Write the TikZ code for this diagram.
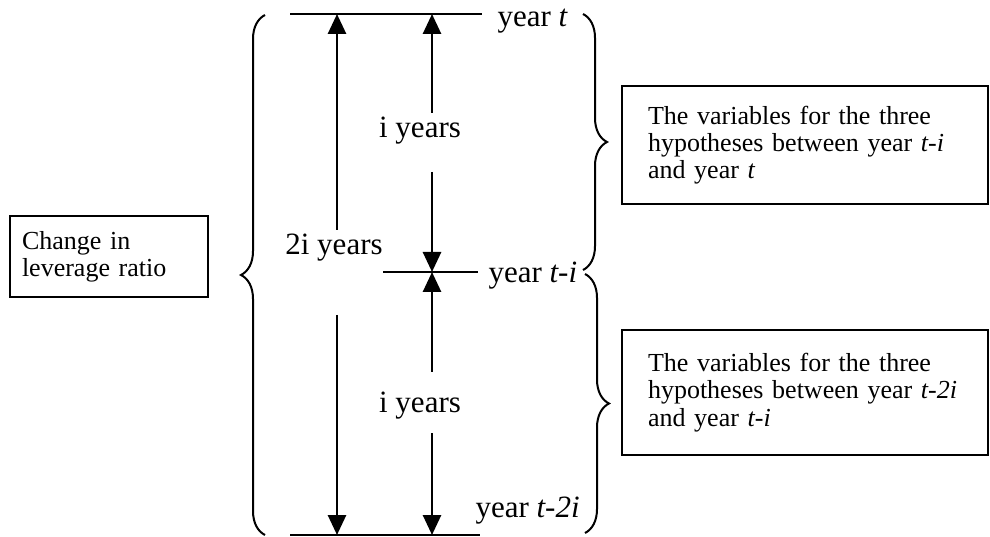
\documentclass[tikz,border=0pt]{standalone}
\usepackage{fontspec}
\setmainfont{Liberation Serif}
\usepackage{tikz}
\usetikzlibrary{arrows.meta}
\usetikzlibrary{decorations.pathreplacing}

\begin{document}
\begin{tikzpicture}[x=0.4pt, y=-0.4pt,
    arr/.style={line width=1.1pt, -{Triangle[width=7.2pt,length=8pt]}},
    brc/.style={line width=0.8pt, decorate, decoration={brace, amplitude=9.6pt}},
    lbl/.style={inner sep=0pt, font=\fontsize{12.4}{14}\selectfont},
    box/.style={draw, line width=1.1pt, align=left, inner xsep=4.8pt,
        font=\fontsize{10.4}{10.9}\selectfont}]
    \useasboundingbox (0,0) rectangle (990,537);

    % Lignes des annees
    \coordinate (tL) at (290,14);  \coordinate (tR) at (482,14);
    \coordinate (mL) at (383,272); \coordinate (mR) at (478,272);
    \coordinate (bL) at (290,535); \coordinate (bR) at (480,535);
    \draw[line width=1.1pt] (tL) -- (tR);
    \draw[line width=1.1pt] (mL) -- (mR);
    \draw[line width=1.1pt] (bL) -- (bR);
    \node[lbl, anchor=base west] (yt) at (497,27) {year \textit{t}};
    \node[lbl, anchor=base west] (yti) at (488,283) {year \textit{t-i}};
    \node[lbl, anchor=base west] (yt2i) at (475,517) {year \textit{t-2i}};

    % Fleche de 2i annees
    \node[lbl, anchor=base] (twoi) at (334,255) {2i years};
    \coordinate (aT) at (337,14);  \coordinate (aB) at (337,535);
    \coordinate (a1) at (337,230); \coordinate (a2) at (337,315);
    \draw[arr] (a1) -- (aT);
    \draw[arr] (a2) -- (aB);

    % Fleches de i annees
    \node[lbl, anchor=base] (iup) at (420,138) {i years};
    \node[lbl, anchor=base] (ilow) at (420,412) {i years};
    \coordinate (cT) at (432,14);  \coordinate (cM) at (432,272);
    \coordinate (cB) at (432,535);
    \coordinate (c1) at (432,113); \coordinate (c2) at (432,172);
    \coordinate (c3) at (432,372); \coordinate (c4) at (432,433);
    \draw[arr] (c1) -- (cT);
    \draw[arr] (c2) -- (cM);
    \draw[arr] (c3) -- (cM);
    \draw[arr] (c4) -- (cB);

    % Accolades
    \draw[brc] (265,535) -- (265,15);
    \draw[brc] (583,14) -- (583,270);
    \draw[brc] (585,274) -- (585,533);

    % Boites
    \node[box, text width=69.6pt, minimum height=32.4pt] (lev) at (109,256.5)
        {Change in\\leverage ratio};
    \node[box, inner xsep=10.4pt, text width=125.6pt, minimum height=47.2pt] (var1) at (805,145)
        {The variables for the three\\hypotheses between year \textit{t-i}\\and year \textit{t}};
    \node[box, inner xsep=10.4pt, text width=125.6pt, minimum height=50pt] (var2) at (805,392.5)
        {The variables for the three\\hypotheses between year \textit{t-2i}\\and year \textit{t-i}};
\end{tikzpicture}
\end{document}
